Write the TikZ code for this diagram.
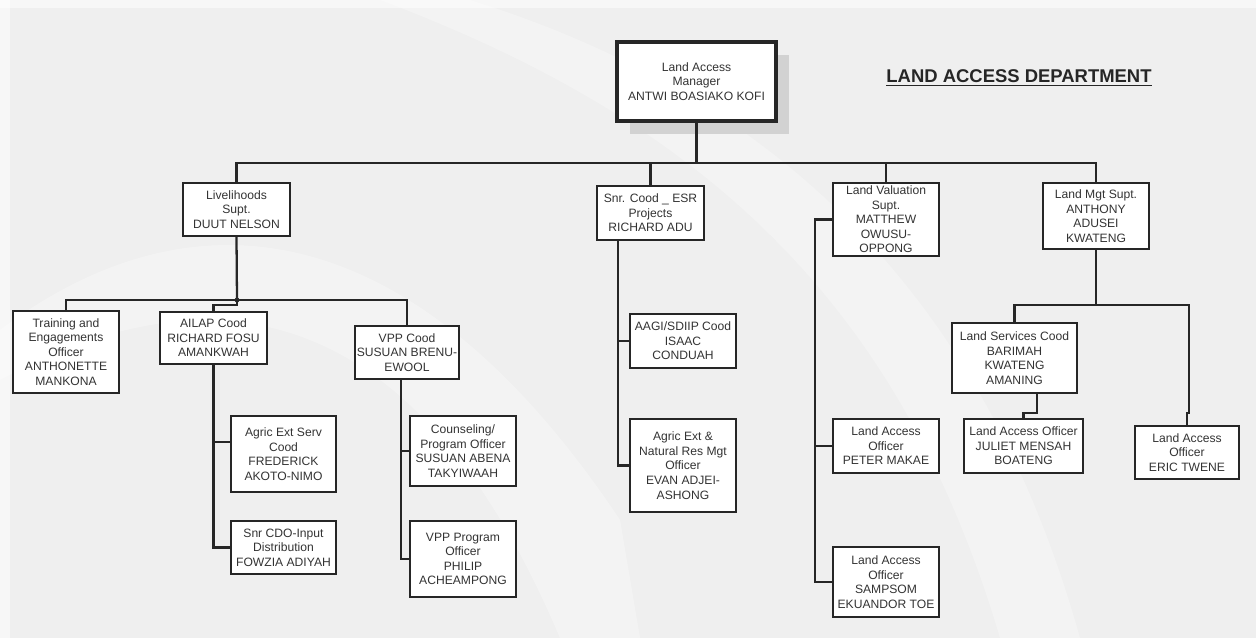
\documentclass[tikz,border=0pt]{standalone}
\usepackage{fontspec}
\setmainfont{Liberation Sans}
\usepackage{tikz}
\usetikzlibrary{calc}
\definecolor{bgcol}{HTML}{EFEFEF}
\definecolor{txtcol}{HTML}{333333}

\begin{document}
\begin{tikzpicture}[x=0.02cm,y=-0.02cm]
	\tikzstyle{orgbox}=[draw=black!85,line width=1.1pt,fill=white,text=txtcol,align=center,
		inner sep=1pt,font=\fontsize{6.9}{8.3}\selectfont]
	\tikzstyle{sz}=[minimum width=#1*0.02cm]
	\tikzstyle{ht}=[minimum height=#1*0.02cm]
	\tikzstyle{link}=[draw=black!85,line width=1.3pt]

	\useasboundingbox (0,0) rectangle (1256,638);
	\fill[bgcol] (0,0) rectangle (1256,638);
	\fill[white,opacity=0.3] (0,330) .. controls (200,180) and (420,220) .. (620,520)
		-- (640,638) -- (560,638) .. controls (430,330) and (240,250) .. (0,380) -- cycle;
	\fill[white,opacity=0.25] (380,0) .. controls (700,120) and (900,300) .. (1000,638)
		-- (1080,638) .. controls (980,280) and (760,90) .. (470,0) -- cycle;
	\fill[white,opacity=0.5] (0,0) rectangle (10,638);
	\fill[white,opacity=0.5] (0,0) rectangle (1256,8);

	% top
	\fill[gray!35] (630,55) rectangle (789,134);
	\node[orgbox,sz=159,ht=79,line width=2.2pt] (mgr) at (696.5,81.5) {Land Access\\Manager\\ANTWI BOASIAKO KOFI};
	\node[font=\fontsize{10.5}{12}\selectfont\bfseries,text=black!85,inner sep=1pt] (title) at (1019,78) {\underline{LAND ACCESS DEPARTMENT}};

	\node[orgbox,sz=107,ht=53] (liv) at (236.5,209.5) {Livelihoods\\Supt.\\DUUT NELSON};
	\node[orgbox,sz=107,ht=54] (snr) at (650.5,213) {Snr. Cood \_ ESR\\Projects\\RICHARD ADU};
	\node[orgbox,sz=106,ht=73] (val) at (886,219.5) {Land Valuation\\Supt.\\MATTHEW\\OWUSU-\\OPPONG};
	\node[orgbox,sz=106,ht=66] (mgt) at (1096,216) {Land Mgt Supt.\\ANTHONY\\ADUSEI\\KWATENG};

	% livelihoods
	\node[orgbox,sz=106,ht=82] (trn) at (66,352) {Training and\\Engagements\\Officer\\ANTHONETTE\\MANKONA};
	\node[orgbox,sz=107,ht=52] (ail) at (213.5,338) {AILAP Cood\\RICHARD FOSU\\AMANKWAH};
	\node[orgbox,sz=104,ht=53] (vpp) at (407,352.5) {VPP Cood\\SUSUAN BRENU-\\EWOOL};
	\node[orgbox,sz=105,ht=76] (agr) at (283.5,454) {Agric Ext Serv\\Cood\\FREDERICK\\AKOTO-NIMO};
	\node[orgbox,sz=105,ht=53] (cdo) at (283.5,547.5) {Snr CDO-Input\\Distribution\\FOWZIA ADIYAH};
	\node[orgbox,sz=106,ht=70] (cou) at (463,451) {Counseling/\\Program Officer\\SUSUAN ABENA\\TAKYIWAAH};
	\node[orgbox,sz=106,ht=76] (vpo) at (463,559) {VPP Program\\Officer\\PHILIP\\ACHEAMPONG};

	% esr projects
	\node[orgbox,sz=106,ht=54] (aag) at (683,341) {AAGI/SDIIP Cood\\ISAAC\\CONDUAH};
	\node[orgbox,sz=106,ht=93] (nrm) at (683,465.5) {Agric Ext \&\\Natural Res Mgt\\Officer\\EVAN ADJEI-\\ASHONG};

	% valuation
	\node[orgbox,sz=106,ht=54] (pet) at (886,446) {Land Access\\Officer\\PETER MAKAE};
	\node[orgbox,sz=106,ht=70] (sam) at (886,582) {Land Access\\Officer\\SAMPSOM\\EKUANDOR TOE};

	% land mgt
	\node[orgbox,sz=125,ht=70] (lsc) at (1014.5,358) {Land Services Cood\\BARIMAH\\KWATENG\\AMANING};
	\node[orgbox,sz=119,ht=54] (jul) at (1023.5,446) {Land Access Officer\\JULIET MENSAH\\BOATENG};
	\node[orgbox,sz=104,ht=53] (eri) at (1187,452.5) {Land Access\\Officer\\ERIC TWENE};

	\coordinate (bus) at (696.5,163);
	\coordinate (lbus) at (237,300);
	\coordinate (vppd) at (401,379);
	\coordinate (snrd) at (618,240);
	\coordinate (vald) at (815,219.5);
	\coordinate (mbus) at (1096,305);
	\coordinate (lscd) at (1037,393);

	\draw[link] (mgr.south) -- (bus);
	\draw[link] (liv.north) |- (bus) -| (mgt.north);
	\draw[link] (snr.north) -- (snr.north |- bus);
	\draw[link] (val.north) -- (val.north |- bus);

	\draw[link] (liv.south) -- (lbus);
	\draw[link] (trn.north) |- (lbus) -| (vpp.north);
	\draw[link] (lbus) -- ++(0,5) -| (ail.north);
	\fill[black!85] (lbus) circle (1.4pt);
	\draw[link] (ail.south) |- (cdo.west);
	\draw[link] ([yshift=0.24cm]agr.west) -- ([yshift=0.24cm]agr.west -| ail.south);
	\draw[link] (vppd) |- (vpo.west);
	\draw[link] (cou.west) -- (cou.west -| vppd);

	\draw[link] (snrd) |- (nrm.west);
	\draw[link] (aag.west) -- (aag.west -| snrd);

	\draw[link] (val.west) -- (vald) |- (sam.west);
	\draw[link] (pet.west) -- (pet.west -| vald);

	\draw[link] (mgt.south) -- (mbus);
	\draw[link] (lsc.north) |- (mbus) -| ++(93,108) -| (eri.north);
	\draw[link] (lscd) -- ++(0,20) -| (jul.north);
\end{tikzpicture}
\end{document}
